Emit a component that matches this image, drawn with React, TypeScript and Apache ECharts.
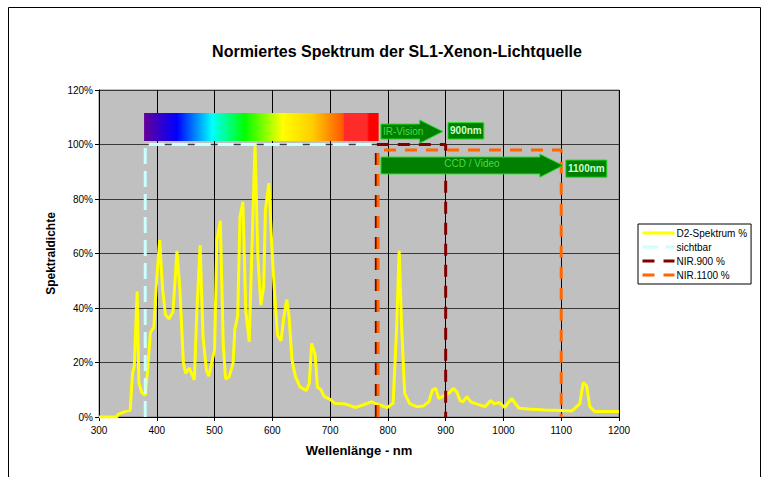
import React, { useEffect, useRef } from "react";
import * as echarts from "echarts";

const FONT = "'Liberation Sans', Arial, sans-serif";

const spectrumNm = [300, 331, 333, 345, 354, 358, 361, 366, 369, 374, 380, 384, 389, 395, 400, 405, 410, 415, 421, 428, 435, 440, 446, 450, 456, 465, 469, 475, 480, 486, 490, 500, 504, 510, 515, 519, 525, 532, 535, 540, 544, 549, 554, 560, 570, 575, 580, 585, 588, 594, 600, 604, 609, 615, 620, 625, 629, 634, 640, 648, 659, 664, 668, 674, 678, 684, 690, 700, 708, 726, 743, 757, 772, 778, 786, 799, 809, 815, 819.5, 824, 829, 838, 850, 861, 871, 877, 883, 888, 899, 907, 913, 919, 925, 930, 937, 943, 953, 968, 978, 984, 993, 1002, 1014, 1027, 1043, 1072, 1100, 1118, 1132, 1138, 1144, 1149.5, 1158, 1200];
const spectrumPct = [0, 0, 1, 2, 2.5, 16, 18.5, 46, 12.5, 9, 8, 17, 31, 33, 51, 65, 47, 37.5, 36, 38.5, 61, 47, 20, 16, 18, 13.6, 37, 63, 29.5, 17, 15, 24.6, 65, 72, 27, 14, 14.6, 19.7, 32, 37, 73.5, 79, 39, 27.6, 100, 58.8, 41, 47.8, 76, 85.8, 58.8, 45, 30, 28, 36.8, 43, 36.8, 21, 14.8, 11, 9.7, 12.4, 27, 23, 11, 10, 7.5, 6.5, 5, 4.8, 3.5, 4.4, 5.6, 5, 4.4, 3.5, 5, 32, 61, 32, 8.7, 4.8, 3.8, 4, 5.6, 9.9, 10.5, 6.8, 8, 9, 10.5, 9.3, 6, 5.6, 7.5, 5.6, 4.8, 3.8, 6, 4.8, 5.3, 3.5, 6.8, 3.2, 2.9, 2.6, 2.4, 2.2, 4.8, 12.6, 11.4, 3.8, 2, 2];

const sichtbarNm = [380, 380, 784];
const sichtbarPct = [0, 100, 100];
const nir900Nm = [780, 780, 900, 900];
const nir900Pct = [0, 100, 100, 0];
const nir1100Nm = [783, 783, 1100, 1100];
const nir1100Pct = [0, 98, 98, 0];

const seriesNames = ["D2-Spektrum %", "sichtbar", "NIR.900 %", "NIR.1100 %"];

const zip = (xs: number[], ys: number[]) => xs.map((x, i) => [x, ys[i]]);

export default function App() {
  const ref = useRef<HTMLDivElement>(null);
  useEffect(() => {
    if (!ref.current) return;
    const chart = echarts.init(ref.current, undefined, { renderer: "svg" });
    chart.setOption({
      animation: false,
      backgroundColor: "#ffffff",
      textStyle: { fontFamily: FONT },
      title: {
        text: "Normiertes Spektrum der SL1-Xenon-Lichtquelle",
        left: 392,
        top: 38,
        textAlign: "center",
        textStyle: { fontSize: 16, fontWeight: "bold", color: "#000", fontFamily: FONT },
      },
      legend: {
        orient: "vertical",
        left: 638,
        top: 224,
        backgroundColor: "#ffffff",
        borderColor: "#000",
        borderWidth: 1,
        borderRadius: 0,
        padding: [4, 4, 4, 3],
        itemWidth: 32,
        itemHeight: 10,
        itemGap: 4,
        data: seriesNames,
        lineStyle: { width: 3 },
        itemStyle: { color: "rgba(0,0,0,0)", borderWidth: 0, opacity: 0 },
        textStyle: { fontSize: 10, color: "#000", fontFamily: FONT, padding: [0, 0, 0, -3] },
      },
      grid: {
        left: 99,
        right: 149,
        top: 90,
        bottom: 60,
        show: true,
        backgroundColor: "#c0c0c0",
        borderColor: "#808080",
        borderWidth: 1,
      },
      xAxis: {
        type: "value",
        min: 300,
        max: 1200,
        interval: 100,
        name: "Wellenlänge - nm",
        nameLocation: "middle",
        nameGap: 27,
        nameTextStyle: { fontSize: 13, fontWeight: "bold", color: "#000", fontFamily: FONT },
        axisLine: { show: true, lineStyle: { color: "#000", width: 1 } },
        axisTick: { show: true, length: 4, lineStyle: { color: "#000" } },
        axisLabel: { fontSize: 10, color: "#000", margin: 8, fontFamily: FONT, formatter: (v: number) => String(v) },
        splitLine: { show: true, lineStyle: { color: "#000", width: 1 } },
      },
      yAxis: {
        type: "value",
        min: 0,
        max: 120,
        interval: 20,
        name: "Spektraldichte",
        nameLocation: "middle",
        nameGap: 31,
        nameTextStyle: { fontSize: 12, fontWeight: "bold", color: "#000", fontFamily: FONT },
        axisLine: { show: true, lineStyle: { color: "#000", width: 1 } },
        axisTick: { show: true, length: 4, lineStyle: { color: "#000" } },
        axisLabel: { fontSize: 10, color: "#000", margin: 6, formatter: "{value}%", fontFamily: FONT },
        splitLine: { show: true, lineStyle: { color: "#3a3a3a", width: 1 } },
      },
      series: [
        {
          name: seriesNames[0],
          type: "line",
          data: zip(spectrumNm, spectrumPct),
          symbol: "none",
          lineStyle: { color: "#ffff00", width: 3 },
          itemStyle: { color: "#ffff00" },
          z: 2,
        },
        {
          name: seriesNames[1],
          type: "line",
          data: zip(sichtbarNm, sichtbarPct),
          symbol: "none",
          lineStyle: { color: "#ccffff", width: 3, type: [16, 7] },
          itemStyle: { color: "#ccffff" },
          z: 3,
        },
        {
          name: seriesNames[2],
          type: "line",
          data: zip(nir900Nm, nir900Pct),
          symbol: "none",
          lineStyle: { color: "#800000", width: 3, type: [12, 9] },
          itemStyle: { color: "#800000" },
          z: 4,
        },
        {
          name: seriesNames[3],
          type: "line",
          data: zip(nir1100Nm, nir1100Pct),
          symbol: "none",
          lineStyle: { color: "#ff6600", width: 3, type: [12, 9] },
          itemStyle: { color: "#ff6600" },
          z: 4,
        },
      ],
    });

    const p = (x: number, y: number) => chart.convertToPixel({ gridIndex: 0 }, [x, y]) as number[];

    const arrow = (x0: number, xh: number, xt: number, yb0: number, yb1: number, yh0: number, yh1: number) => {
      const yMid = (yb0 + yb1) / 2;
      return [
        p(x0, yb0), p(xh, yb0), p(xh, yh0), p(xt, yMid), p(xh, yh1), p(xh, yb1), p(x0, yb1),
      ];
    };

    const barTL = p(378, 111.6);
    const barBR = p(784, 101.3);

    const irArrow = arrow(788, 855, 895, 107.5, 102, 109, 100.5);
    const ccdArrow = arrow(788, 1063, 1103, 95.4, 89.2, 96.5, 88);
    const box900TL = p(904, 108);
    const box900BR = p(966, 102);
    const box1100TL = p(1108, 94.3);
    const box1100BR = p(1179, 88);

    const green = "#007f00";
    const edge = "#22e022";

    chart.setOption({
      graphic: [
        {
          type: "rect",
          shape: { x: 8.5, y: 7.5, width: 752, height: 480 },
          style: { fill: "none", stroke: "#000", lineWidth: 1 },
          silent: true,
          z: 0,
        },
        {
          type: "rect",
          shape: { x: barTL[0], y: barTL[1], width: barBR[0] - barTL[0], height: barBR[1] - barTL[1] },
          style: {
            fill: new echarts.graphic.LinearGradient(0, 0, 1, 0, [
              { offset: 0, color: "#660099" },
              { offset: 0.14, color: "#0000ff" },
              { offset: 0.29, color: "#00ffff" },
              { offset: 0.43, color: "#00ff00" },
              { offset: 0.59, color: "#ffff00" },
              { offset: 0.72, color: "#ffcc00" },
              { offset: 0.85, color: "#ff5500" },
              { offset: 0.851, color: "#ff2a2a" },
              { offset: 0.95, color: "#ff2a2a" },
              { offset: 0.96, color: "#ff0000" },
              { offset: 1, color: "#ff0000" },
            ]),
          },
          z: 10,
        },
        {
          type: "polygon",
          shape: { points: irArrow },
          style: { fill: green, stroke: edge, lineWidth: 1 },
          z: 10,
        },
        {
          type: "text",
          x: irArrow[0][0] + 2,
          y: (irArrow[0][1] + irArrow[6][1]) / 2,
          style: { text: "IR-Vision", fill: "#44dd44", font: `10px ${FONT}`, textVerticalAlign: "middle" },
          z: 11,
        },
        {
          type: "polygon",
          shape: { points: ccdArrow },
          style: { fill: green, stroke: edge, lineWidth: 1 },
          z: 10,
        },
        {
          type: "text",
          x: (ccdArrow[0][0] + ccdArrow[3][0]) / 2,
          y: (ccdArrow[0][1] + ccdArrow[6][1]) / 2 - 2,
          style: { text: "CCD / Video", fill: "#44dd44", font: `10px ${FONT}`, textAlign: "center", textVerticalAlign: "middle" },
          z: 11,
        },
        {
          type: "rect",
          shape: { x: box900TL[0], y: box900TL[1], width: box900BR[0] - box900TL[0], height: box900BR[1] - box900TL[1] },
          style: { fill: green, stroke: edge, lineWidth: 1 },
          z: 10,
        },
        {
          type: "text",
          x: (box900TL[0] + box900BR[0]) / 2,
          y: (box900TL[1] + box900BR[1]) / 2,
          style: { text: "900nm", fill: "#ccffcc", font: `bold 10px ${FONT}`, textAlign: "center", textVerticalAlign: "middle" },
          z: 11,
        },
        {
          type: "rect",
          shape: { x: box1100TL[0], y: box1100TL[1], width: box1100BR[0] - box1100TL[0], height: box1100BR[1] - box1100TL[1] },
          style: { fill: green, stroke: edge, lineWidth: 1 },
          z: 10,
        },
        {
          type: "text",
          x: (box1100TL[0] + box1100BR[0]) / 2,
          y: (box1100TL[1] + box1100BR[1]) / 2,
          style: { text: "1100nm", fill: "#ccffcc", font: `bold 10px ${FONT}`, textAlign: "center", textVerticalAlign: "middle" },
          z: 11,
        },
      ],
    });

    return () => chart.dispose();
  }, []);

  return <div ref={ref} style={{ position: "fixed", left: 0, top: 0, width: 768, height: 477 }} />;
}
